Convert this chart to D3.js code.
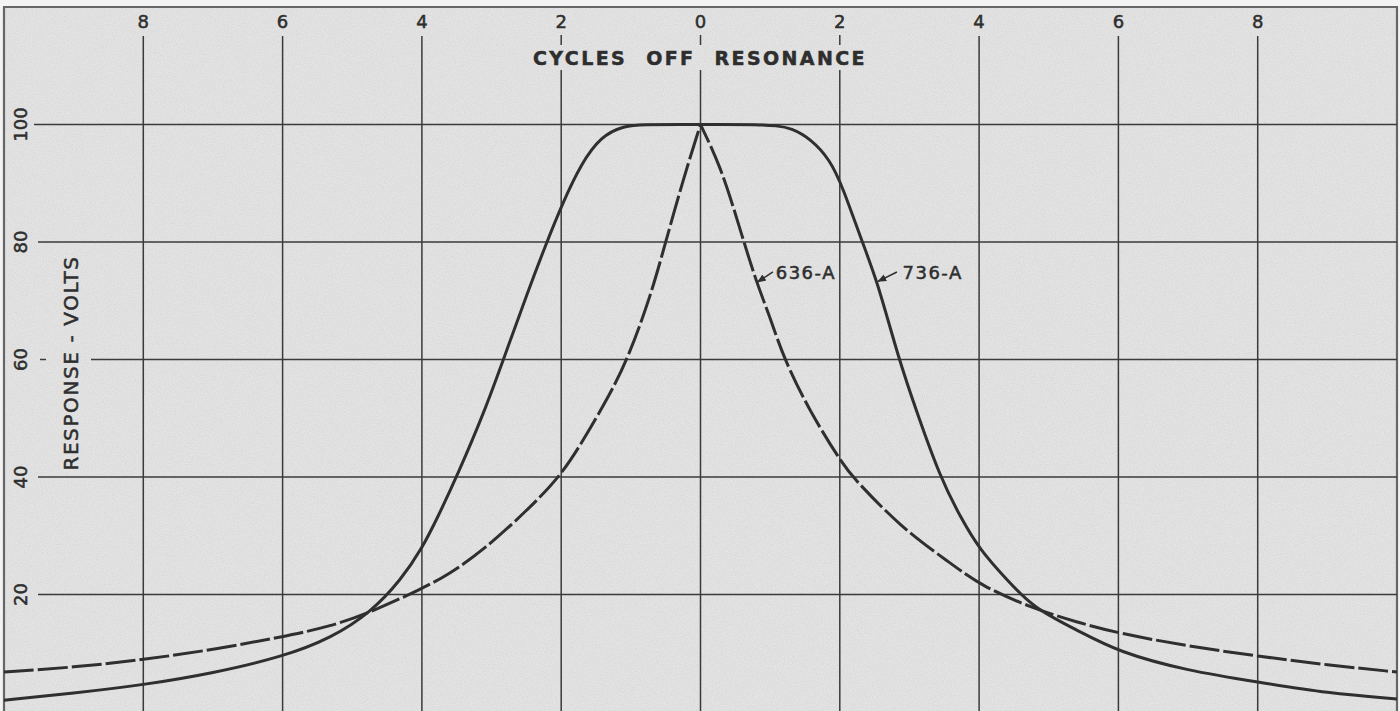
<!DOCTYPE html>
<html>
<head>
<meta charset="utf-8">
<script src="https://cdn.jsdelivr.net/npm/d3@7"></script>
<style>
  body { margin: 0; background: #f3f3f3; }
  svg { display: block; }
  text { fill: #2e2e2e; stroke: #2e2e2e; stroke-width: 0.5; font-family: "DejaVu Sans", sans-serif; }
</style>
</head>
<body>
<svg id="chart" width="1400" height="711"></svg>
<script>
// cycles off resonance
var xTicks = [-8, -6, -4, -2, 0, 2, 4, 6, 8];
var yTicks = [20, 40, 60, 80, 100];

// 636-A (dashed, sharp peak)
var x636 = [-10, -9, -8, -7, -6, -5.3, -4.73, -4, -3.63, -3.11, -2.48, -2.0, -1.68, -1.29, -1.05, -0.72, -0.5, -0.24, 0,
            0.29, 0.53, 0.79, 1.0, 1.19, 1.58, 2.05, 2.2, 2.87, 3.58, 4.04, 4.78, 5.4, 6, 7, 8, 9, 10];
var v636 = [6.8, 7.6, 8.9, 10.6, 12.8, 14.6, 17.0, 21.0, 23.3, 27.6, 34.4, 40.3, 46.3, 54.3, 60.0, 70.6, 80.0, 91.0, 100,
            92.8, 83.7, 73.5, 67.2, 60.3, 50.9, 42.0, 39.8, 31.5, 25.4, 21.4, 17.6, 15.3, 13.4, 11.2, 9.5, 8.0, 6.8];

// 736-A (solid, flat top)
var x736 = [-10, -9, -8, -7, -6, -5.3, -4.73, -4.3, -4, -3.77, -3.48, -3.11, -2.83, -2.48, -2.22, -1.98, -1.72, -1.43, -1.1,
            -0.8, -0.3, 0.3, 0.8, 1.1, 1.3, 1.58, 1.86, 2.04, 2.32, 2.54, 2.84, 3.11, 3.44, 3.73, 4.01, 4.4, 4.78, 5.4, 6, 7, 8, 9, 10];
var v736 = [2.0, 3.2, 4.6, 6.6, 9.4, 12.6, 17.0, 22.5, 27.8, 33.2, 40.6, 50.9, 60.0, 71.5, 79.6, 86.6, 93.2, 98.0, 99.8,
            100, 100, 100, 100, 99.8, 99.4, 97.6, 94.0, 89.4, 80.0, 73.3, 60.3, 50.9, 40.0, 33.2, 27.6, 22.5, 17.7, 14.0, 10.2, 7.0, 5.1, 3.2, 2.2];

// curve labels: text anchor and leader (tail -> head)
var labels = [
    {text: "636-A", x: 1.08, v: 74.9, x1: 1.04, v1: 74.9, x2: 0.82, v2: 73.2},
    {text: "736-A", x: 2.90, v: 74.9, x1: 2.82, v1: 74.9, x2: 2.55, v2: 73.3}
];

var svg = d3.select('#chart');
var W = 1400, H = 711;
var ink = '#2f2f2f';

var x = d3.scaleLinear().domain([-10, 10]).range([4, 1397]);
var y = d3.scaleLinear().domain([0, 120]).range([712, 7]);

// paper texture
var defs = svg.append('defs');
var f = defs.append('filter').attr('id', 'paper').attr('x', 0).attr('y', 0).attr('width', 1).attr('height', 1);
f.append('feTurbulence').attr('type', 'fractalNoise').attr('baseFrequency', 0.9).attr('numOctaves', 2).attr('seed', 3);
f.append('feColorMatrix').attr('type', 'matrix')
    .attr('values', '0 0 0 0 0.3  0 0 0 0 0.3  0 0 0 0 0.3  0 0 0 -1.1 0.75');

defs.append('marker').attr('id', 'arrow')
    .attr('viewBox', '0 0 10 10').attr('refX', 9).attr('refY', 5)
    .attr('markerWidth', 6).attr('markerHeight', 6).attr('orient', 'auto')
    .append('path').attr('d', 'M0,1 L10,5 L0,9 Z').attr('fill', ink);

svg.append('rect').attr('x', x(-10)).attr('y', y(120)).attr('width', x(10) - x(-10)).attr('height', H - y(120) + 2)
    .attr('fill', '#e4e4e4');
svg.append('rect').attr('x', x(-10)).attr('y', y(120)).attr('width', x(10) - x(-10)).attr('height', H - y(120) + 2)
    .attr('filter', 'url(#paper)').attr('opacity', 0.25);

// frame
svg.append('path')
    .attr('d', 'M' + x(-10) + ',' + (H + 2) + 'V' + y(120) + 'H' + x(10) + 'V' + (H + 2))
    .attr('fill', 'none').attr('stroke', '#666').attr('stroke-width', 2.2);

var grid = svg.append('g').attr('stroke', '#3a3a3a').attr('stroke-width', 1.5).attr('fill', 'none');

// vertical grid, broken where the title sits
xTicks.forEach(function(t){
    var px = x(t);
    if (Math.abs(t) <= 2) {
        grid.append('line').attr('x1', px).attr('x2', px).attr('y1', 35).attr('y2', 45);
        grid.append('line').attr('x1', px).attr('x2', px).attr('y1', 70).attr('y2', H);
    } else {
        grid.append('line').attr('x1', px).attr('x2', px).attr('y1', 36).attr('y2', H);
    }
});

// horizontal grid, broken where the axis title sits
yTicks.forEach(function(t){
    var py = y(t);
    if (t === 60) {
        grid.append('line').attr('x1', 40).attr('x2', 46).attr('y1', py).attr('y2', py);
        grid.append('line').attr('x1', 91).attr('x2', x(10)).attr('y1', py).attr('y2', py);
    } else {
        grid.append('line').attr('x1', t === 100 ? 34 : 38).attr('x2', x(10)).attr('y1', py).attr('y2', py);
    }
});

// tick labels
svg.append('g').selectAll('text').data(xTicks).enter().append('text')
    .attr('x', function(d){ return x(d); })
    .attr('y', 28)
    .attr('text-anchor', 'middle')
    .attr('font-size', 18)
    .text(function(d){ return Math.abs(d); });

svg.append('g').selectAll('text').data(yTicks).enter().append('text')
    .attr('transform', function(d){ return 'translate(27,' + y(d) + ') rotate(-90)'; })
    .attr('text-anchor', 'middle')
    .attr('font-size', 18)
    .text(function(d){ return d; });

svg.append('text')
    .attr('x', 700).attr('y', 65)
    .attr('text-anchor', 'middle')
    .attr('font-size', 19).attr('font-weight', 'bold')
    .attr('letter-spacing', 2.4)
    .attr('word-spacing', 10)
    .text('CYCLES OFF RESONANCE');

svg.append('text')
    .attr('transform', 'translate(78,363) rotate(-90)')
    .attr('text-anchor', 'middle')
    .attr('font-size', 20)
    .attr('font-family', '"Liberation Sans Narrow", "Liberation Sans", sans-serif')
    .attr('letter-spacing', 1.6)
    .text('RESPONSE - VOLTS');

// curves
var line = d3.line()
    .x(function(d){ return x(d[0]); })
    .y(function(d){ return y(d[1]); })
    .curve(d3.curveBasis);

var pts636 = d3.zip(x636, v636);
var pts736 = d3.zip(x736, v736);

// the 636-A peak is a cusp, so draw each flank on its own
var left636 = pts636.filter(function(d){ return d[0] <= 0; });
var right636 = pts636.filter(function(d){ return d[0] >= 0; });

[left636, right636].forEach(function(p, i){
    svg.append('path').datum(p)
        .attr('d', line)
        .attr('fill', 'none').attr('stroke', ink).attr('stroke-width', 3)
        .attr('stroke-dasharray', '30 4')
        .attr('stroke-dashoffset', i ? 10 : 0);
});

svg.append('path').datum(pts736)
    .attr('d', line)
    .attr('fill', 'none').attr('stroke', ink).attr('stroke-width', 3);

// curve labels with leaders
labels.forEach(function(l){
    svg.append('line')
        .attr('x1', x(l.x1)).attr('y1', y(l.v1))
        .attr('x2', x(l.x2)).attr('y2', y(l.v2))
        .attr('stroke', ink).attr('stroke-width', 1.5)
        .attr('marker-end', 'url(#arrow)');
    svg.append('text')
        .attr('x', x(l.x)).attr('y', y(l.v) + 7)
        .attr('font-size', 18)
        .attr('letter-spacing', 1.5)
        .text(l.text);
});
</script>
</body>
</html>
